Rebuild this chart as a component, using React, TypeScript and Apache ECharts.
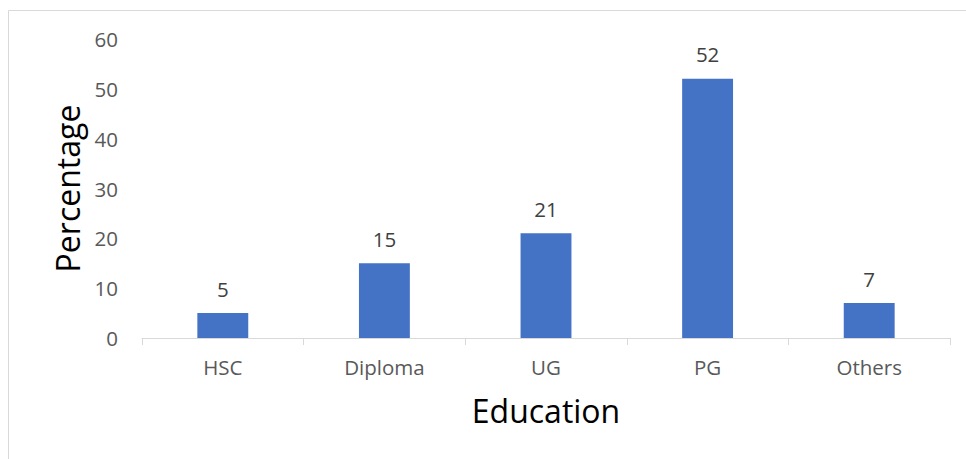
import React, { useEffect, useRef } from "react";
import * as echarts from "echarts";

const categories = ["HSC", "Diploma", "UG", "PG", "Others"];
const percentages = [5, 15, 21, 52, 7];
const yTicks = { min: 0, max: 60, interval: 10 };
const xTitle = "Education";
const yTitle = "Percentage";

export default function App() {
  const ref = useRef<HTMLDivElement>(null);
  useEffect(() => {
    if (!ref.current) return;
    const chart = echarts.init(ref.current, null, { renderer: "svg" });
    const font = "'Open Sans', sans-serif";
    chart.setOption({
      animation: false,
      backgroundColor: "#ffffff",
      graphic: [
        {
          type: "rect",
          shape: { x: 8.5, y: 10.5, width: 1000, height: 500 },
          style: { fill: "none", stroke: "#d9d9d9", lineWidth: 1 },
          silent: true,
        },
      ],
      grid: { left: 142, right: 16, top: 39, bottom: 121, containLabel: false },
      xAxis: {
        type: "category",
        data: categories,
        name: xTitle,
        nameLocation: "middle",
        nameGap: 56,
        nameTextStyle: { fontFamily: font, fontSize: 32, color: "#000000" },
        axisLine: { lineStyle: { color: "#d9d9d9", width: 1 } },
        axisTick: { show: true, length: 7, lineStyle: { color: "#d9d9d9" } },
        axisLabel: { fontFamily: font, fontSize: 20.5, color: "#595959", margin: 18 },
      },
      yAxis: {
        type: "value",
        min: yTicks.min,
        max: yTicks.max,
        interval: yTicks.interval,
        name: yTitle,
        nameLocation: "middle",
        nameGap: 56,
        nameTextStyle: { fontFamily: font, fontSize: 32, color: "#000000" },
        axisLine: { show: false },
        axisTick: { show: false },
        splitLine: { show: false },
        axisLabel: { fontFamily: font, fontSize: 20.5, color: "#595959", margin: 24 },
      },
      series: [
        {
          type: "bar",
          data: percentages,
          barWidth: "31.5%",
          itemStyle: { color: "#4472C4" },
          label: {
            show: true,
            position: "top",
            distance: 14,
            fontFamily: font,
            fontSize: 20.5,
            color: "#404040",
          },
        },
      ],
    });
    return () => chart.dispose();
  }, []);
  return (
    <div
      ref={ref}
      style={{ position: "absolute", left: 0, top: 0, width: 966, height: 459 }}
    />
  );
}
